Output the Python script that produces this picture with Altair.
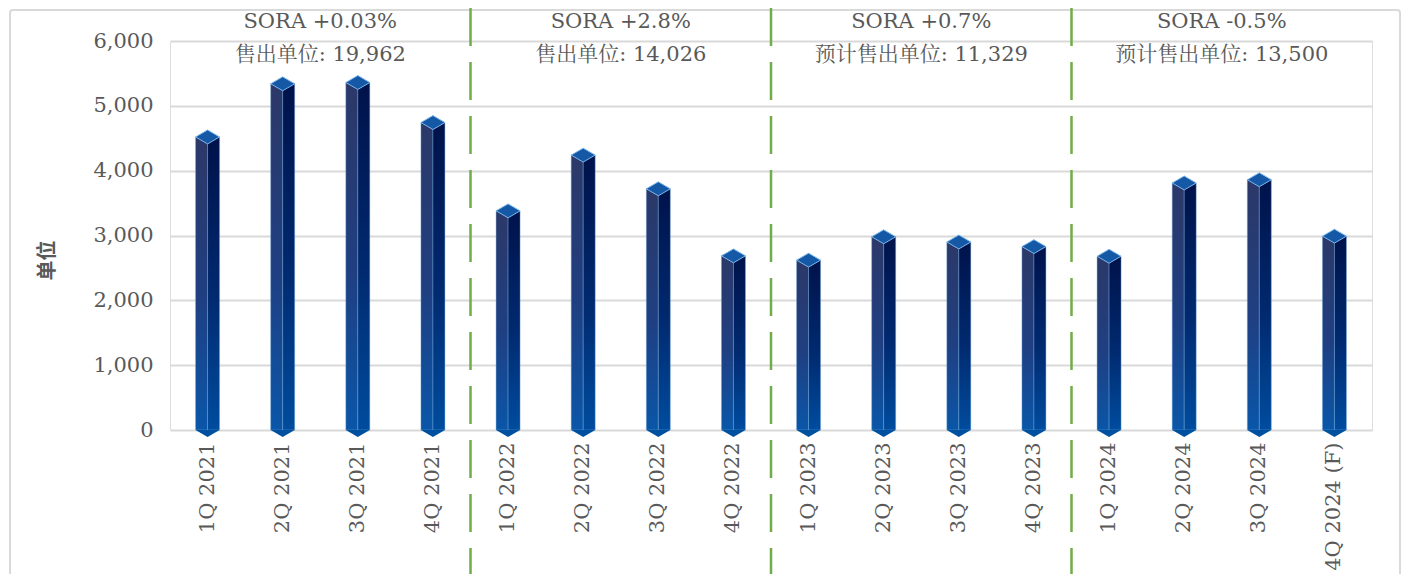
import altair as alt
import pandas as pd

quarters = ["1Q 2021", "2Q 2021", "3Q 2021", "4Q 2021",
            "1Q 2022", "2Q 2022", "3Q 2022", "4Q 2022",
            "1Q 2023", "2Q 2023", "3Q 2023", "4Q 2023",
            "1Q 2024", "2Q 2024", "3Q 2024", "4Q 2024 (F)"]
units = [4520, 5340, 5360, 4742,
         3380, 4240, 3720, 2686,
         2620, 2980, 2900, 2829,
         2680, 3810, 3860, 2990]

group_line1 = ["SORA +0.03%", "SORA +2.8%", "SORA +0.7%", "SORA -0.5%"]
group_line2 = ["售出单位: 19,962", "售出单位: 14,026", "预计售出单位: 11,329", "预计售出单位: 13,500"]
group_center_q = ["3Q 2021", "3Q 2022", "3Q 2023", "3Q 2024"]   # band start = group centre
divider_q = ["1Q 2022", "1Q 2023", "1Q 2024"]                   # band start = divider
y_ticks = [0, 1000, 2000, 3000, 4000, 5000, 6000]

FONT = "DejaVu Serif, Noto Serif CJK SC, Noto Sans CJK SC"
TXT = "#595959"

df = pd.DataFrame({"q": quarters, "v": units})
df["zero"] = 0
ann = pd.DataFrame({"q": group_center_q, "l1": group_line1, "l2": group_line2})
div = pd.DataFrame({"q": divider_q})

W, H = 1202, 389

xscale = alt.Scale(domain=quarters, paddingInner=0, paddingOuter=0)
yscale = alt.Scale(domain=[0, 6000], nice=False)

x_axis = alt.Axis(title=None, labelAngle=270, labelAlign="right", labelBaseline="middle",
                  labelFont=FONT, labelFontSize=21, labelColor=TXT, labelPadding=12,
                  ticks=False, domain=False, grid=False)
y_axis = alt.Axis(title="单位", values=y_ticks,
                  labelExpr="replace(format(datum.value, ',.0f'), '', '')",
                  labelFont=FONT, labelFontSize=21, labelColor=TXT, labelPadding=17,
                  titleFont="Noto Sans CJK SC", titleFontSize=20, titleFontWeight="bold",
                  titleColor=TXT, titleAngle=270, titleBaseline="middle",
                  titleX=-123, titleY=219,
                  ticks=False, domain=False, grid=True, gridColor="#d9d9d9", gridWidth=2)

X = alt.X("q:N", scale=xscale, sort=None, axis=x_axis)
Y = alt.Y("v:Q", scale=yscale, axis=y_axis)
Y0 = alt.Y("zero:Q", scale=yscale, axis=y_axis)

left_grad = alt.Gradient(gradient="linear", x1=0, y1=0, x2=0, y2=1,
                         stops=[alt.GradientStop(color="#2c3868", offset=0),
                                alt.GradientStop(color="#1f3f82", offset=0.55),
                                alt.GradientStop(color="#0a56a8", offset=1)])
right_grad = alt.Gradient(gradient="linear", x1=0, y1=0, x2=0, y2=1,
                          stops=[alt.GradientStop(color="#00124a", offset=0),
                                 alt.GradientStop(color="#012a70", offset=0.55),
                                 alt.GradientStop(color="#004c9e", offset=1)])

base = alt.Chart(df)

left_face = base.mark_bar(width=12, xOffset=-6, color=left_grad, stroke="#6fa8dc",
                          strokeWidth=0.6, strokeOpacity=0.7).encode(x=X, y=Y)
right_face = base.mark_bar(width=12, xOffset=6, color=right_grad, stroke="#6fa8dc",
                           strokeWidth=0.6, strokeOpacity=0.7).encode(x=X, y=Y)

cap = base.mark_point(shape="M-1,0L0,-0.58L1,0L0,0.58Z", size=576, filled=True,
                      color="#1458a6", stroke="#7fb8ec", strokeWidth=1, opacity=1).encode(
    x=X, y=Y)
bottom = base.mark_point(shape="M-1,0L0,0.58L1,0Z", size=576, filled=True,
                         color="#0050a0", strokeWidth=0, opacity=1).encode(x=X, y=Y0)

dividers = alt.Chart(div).mark_rule(color="#70ad47", strokeWidth=2.5,
                                    strokeDash=[38, 16]).encode(
    x=alt.X("q:N", scale=xscale, sort=None, bandPosition=0, axis=x_axis),
    y=alt.value(-33), y2=alt.value(540))

line1 = alt.Chart(ann).mark_text(font=FONT, fontSize=21, color=TXT, baseline="middle").encode(
    x=alt.X("q:N", scale=xscale, sort=None, bandPosition=0, axis=x_axis),
    y=alt.value(-19), text="l1:N")
line2 = alt.Chart(ann).mark_text(font=FONT, fontSize=21, color=TXT, baseline="middle").encode(
    x=alt.X("q:N", scale=xscale, sort=None, bandPosition=0, axis=x_axis),
    y=alt.value(14), text="l2:N")

border = alt.Chart(pd.DataFrame({"a": [0]})).mark_rect(
    fill=None, stroke="#d9d9d9", strokeWidth=2, cornerRadius=3).encode(
    x=alt.value(-160), x2=alt.value(W + 28), y=alt.value(-31), y2=alt.value(H + 175))

chart = alt.layer(border, left_face, right_face, bottom, cap, dividers, line1, line2).properties(
    width=W, height=H,
    autosize="none",
    padding={"left": 162, "top": 33, "right": 31, "bottom": 144},
).configure_view(stroke=None).configure(background="white")

chart.save("out.html", embed_options={"renderer": "svg", "actions": False})
